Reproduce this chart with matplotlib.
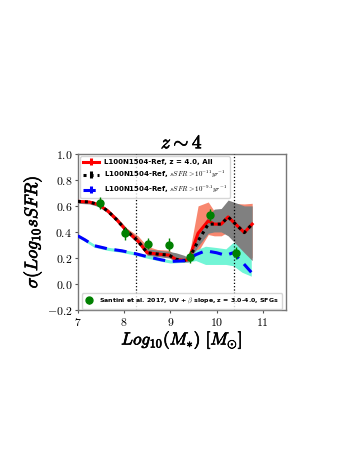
import numpy as np
import matplotlib
matplotlib.use("Agg")
import matplotlib.pyplot as plt
import matplotlib.patheffects as pe

plt.rcParams['mathtext.fontset'] = 'cm'
plt.rcParams['font.family'] = ['DejaVu Sans']

# --- data ---
x_all = [7.0, 7.25, 7.45, 7.65, 7.85, 8.05, 8.3, 8.5, 8.72, 8.97, 9.12, 9.3, 9.4, 9.6, 9.82, 9.95, 10.1, 10.25, 10.6, 10.77]
y_all = [0.635, 0.63, 0.61, 0.56, 0.49, 0.41, 0.33, 0.24, 0.23, 0.222, 0.19, 0.18, 0.19, 0.39, 0.485, 0.46, 0.46, 0.515, 0.395, 0.46]
lo_all = [0.625, 0.62, 0.60, 0.55, 0.48, 0.40, 0.32, 0.23, 0.22, 0.21, 0.18, 0.17, 0.18, 0.25, 0.38, 0.37, 0.37, 0.40, 0.25, 0.20]
hi_all = [0.645, 0.64, 0.62, 0.575, 0.51, 0.43, 0.37, 0.29, 0.265, 0.26, 0.22, 0.19, 0.21, 0.60, 0.63, 0.56, 0.56, 0.62, 0.615, 0.62]

y_ssfr11 = [0.635, 0.63, 0.61, 0.56, 0.49, 0.41, 0.33, 0.24, 0.23, 0.222, 0.19, 0.18, 0.19, 0.33, 0.46, 0.46, 0.46, 0.515, 0.395, 0.46]
lo_ssfr11 = [0.62, 0.615, 0.595, 0.545, 0.475, 0.395, 0.31, 0.22, 0.21, 0.20, 0.175, 0.17, 0.17, 0.29, 0.39, 0.40, 0.40, 0.37, 0.24, 0.18]
hi_ssfr11 = [0.645, 0.64, 0.62, 0.575, 0.51, 0.43, 0.35, 0.27, 0.26, 0.25, 0.24, 0.22, 0.20, 0.40, 0.52, 0.575, 0.58, 0.645, 0.60, 0.60]

x_ssfr91 = [7.0, 7.15, 7.35, 7.65, 7.95, 8.22, 8.5, 8.8, 9.0, 9.3, 9.4, 9.55, 9.76, 10.0, 10.2, 10.36, 10.55, 10.75]
y_ssfr91 = [0.37, 0.34, 0.295, 0.27, 0.255, 0.235, 0.21, 0.186, 0.173, 0.178, 0.19, 0.225, 0.255, 0.24, 0.22, 0.24, 0.17, 0.09]
lo_ssfr91 = [0.358, 0.328, 0.283, 0.258, 0.243, 0.223, 0.198, 0.174, 0.161, 0.166, 0.17, 0.18, 0.15, 0.15, 0.15, 0.14, 0.09, 0.06]
hi_ssfr91 = [0.382, 0.352, 0.307, 0.282, 0.267, 0.247, 0.222, 0.198, 0.185, 0.19, 0.21, 0.26, 0.29, 0.28, 0.27, 0.32, 0.30, 0.27]

obs_x = [7.47, 8.02, 8.52, 8.97, 9.42, 9.86, 10.41]
obs_y = [0.62, 0.39, 0.31, 0.30, 0.21, 0.53, 0.24]
obs_err = [0.045, 0.05, 0.045, 0.05, 0.045, 0.045, 0.045]

vlines = [8.25, 10.38]

xticks = [7, 8, 9, 10, 11]
yticks = [-0.2, 0.0, 0.2, 0.4, 0.6, 0.8, 1.0]

lab_all = r'L100N1504-Ref, z = 4.0, All'
lab_11 = r'L100N1504-Ref, $sSFR > 10^{-11}yr^{-1}$'
lab_91 = r'L100N1504-Ref, $sSFR > 10^{-9.1}yr^{-1}$'
lab_obs = r'Santini et al. 2017, UV + $\beta$ slope, z = 3.0-4.0, SFGs'

# --- figure ---
fig = plt.figure(figsize=(3.57, 4.62), dpi=100)
ax = fig.add_axes([0.218, 0.329, 0.583, 0.338])

ax.fill_between(x_all, lo_all, hi_all, color='#f8876f', lw=0, zorder=1)
ax.fill_between(x_ssfr91, lo_ssfr91, hi_ssfr91, color='#72f5d6', lw=0, zorder=2)
ax.fill_between(x_all, lo_ssfr11, hi_ssfr11, color='#808080', lw=0, zorder=3)

zeros_a = np.zeros(len(x_all))
zeros_b = np.zeros(len(x_ssfr91))
h1 = ax.errorbar(x_all, y_all, yerr=zeros_a, color='red', lw=2.2, zorder=5, label=lab_all)
h2 = ax.errorbar(x_all, y_ssfr11, yerr=zeros_a, color='black', lw=2.2, ls=(0, (1, 1.3)), zorder=6, label=lab_11)
h3 = ax.errorbar(x_ssfr91, y_ssfr91, yerr=zeros_b, color='blue', lw=2.2, ls=(0, (4, 2.5)), zorder=6, label=lab_91)

for v in vlines:
    ax.axvline(v, color='black', ls=':', lw=0.9, zorder=4)

h4 = ax.errorbar(obs_x, obs_y, yerr=obs_err, fmt='o', color='green', ms=5, elinewidth=1, zorder=7, label=lab_obs)

ax.set_xlim(7, 11.5)
ax.set_ylim(-0.2, 1.0)
ax.set_xticks(xticks)
ax.set_yticks(yticks)
ax.set_xticklabels([r'$\mathbf{%d}$' % t for t in xticks], fontsize=8.5)
ax.set_yticklabels([r'$\mathbf{%.1f}$' % t for t in yticks], fontsize=8.5)
ax.tick_params(length=2.5, width=0.8, color='#555555', pad=1.5)
for s in ax.spines.values():
    s.set_color('#777777')
    s.set_linewidth(1.0)

bold = [pe.withStroke(linewidth=0.5, foreground='black')]
ax.set_title(r'$z\sim 4$', fontsize=14, pad=4, path_effects=bold)
ax.set_xlabel(r'$Log_{10}(M_{*})\ [M_{\odot}]$', fontsize=12.5, labelpad=0, path_effects=bold)
ax.set_ylabel(r'$\sigma(Log_{10}sSFR)$', fontsize=13, labelpad=2, path_effects=bold)

leg1 = ax.legend(handles=[h1, h2, h3], loc='upper left',
                 prop={'weight': 'bold', 'size': 5.0}, handlelength=2.3, handletextpad=0.6,
                 borderpad=0.45, labelspacing=0.55, framealpha=0.8, edgecolor='#cccccc',
                 borderaxespad=0.35)
ax.add_artist(leg1)
leg2 = ax.legend(handles=[h4], loc='lower center', prop={'weight': 'bold', 'size': 4.5},
                 handlelength=1.5, borderpad=0.45, framealpha=0.8, edgecolor='#cccccc',
                 borderaxespad=0.15)

fig.savefig('out.png', dpi=100)
